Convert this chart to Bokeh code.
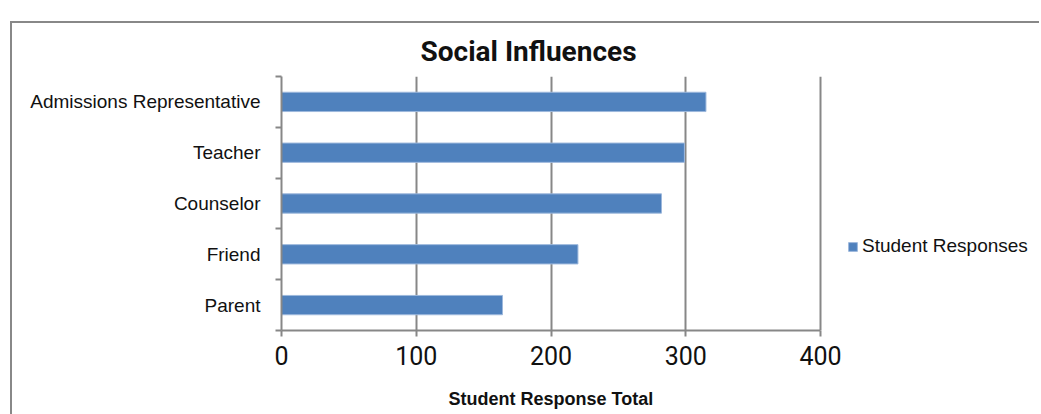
from bokeh.plotting import figure
from bokeh.models import (Range1d, FixedTicker, Legend, LegendItem, ColumnDataSource, Title)
from bokeh.embed import file_html
from bokeh.resources import INLINE

# ---- data ----
categories = ["Admissions Representative", "Teacher", "Counselor", "Friend", "Parent"]
responses = [315, 299, 282, 220, 164]
x_ticks = [0, 100, 200, 300, 400]
title_text = "Social Influences"
x_label = "Student Response Total"
series_name = "Student Responses"

GRAY = "#878787"
BAR = "#4F81BD"
COND = "Roboto, Liberation Sans, sans-serif"
REG = "Liberation Sans, Arial, sans-serif"

n = len(categories)
slot_centers = [n - 0.5 - i for i in range(n)]
slot_bounds = list(range(n + 1))

src = ColumnDataSource(dict(y=slot_centers, right=responses, cat=categories))

# the plot frame extends to the right edge (legend lives there); the value axis
# itself is bounded to 0..400 so 400 sits at 539 px from the left of the frame
FRAME_W = 760
AXIS_W = 539
x_max = x_ticks[-1] * FRAME_W / AXIS_W

p = figure(width=1029, height=405, output_backend="svg", toolbar_location=None,
           x_range=Range1d(0, x_max), y_range=Range1d(0, n),
           min_border_left=269, min_border_right=0, min_border_top=53, min_border_bottom=97)
p.styles = {"margin-left": "10px", "margin-top": "21px",
            "border-left": "2px solid #888888", "border-top": "2px solid #888888"}
p.outline_line_color = None
p.background_fill_color = "white"
p.border_fill_color = "white"

# title
p.title.text = title_text
p.title.align = "left"
p.title.offset = 139
p.title.text_font = COND
p.title.text_font_style = "bold"
p.title.text_font_size = "28px"
p.title.text_color = "#111111"
p.title.standoff = 17

r = p.hbar(y="y", right="right", height=0.38, left=0, source=src,
           fill_color=BAR, line_color="#9db8dc", line_width=1)

# x axis
xa = p.xaxis[0]
xa.bounds = (x_ticks[0], x_ticks[-1])
xa.ticker = FixedTicker(ticks=x_ticks)
xa.minor_tick_line_color = None
xa.major_tick_out = 6
xa.major_tick_in = 0
xa.major_tick_line_color = GRAY
xa.major_tick_line_width = 2
xa.axis_line_color = GRAY
xa.axis_line_width = 2
xa.major_label_text_font = COND
xa.major_label_text_font_size = "25px"
xa.major_label_text_color = "#111111"
xa.major_label_standoff = 9

# axis title, centred under the 0..400 axis
p.add_layout(Title(text=x_label, align="left", offset=167, standoff=39,
                   text_font=REG, text_font_style="bold", text_font_size="18px",
                   text_color="#111111"), "below")

p.xgrid.ticker = FixedTicker(ticks=x_ticks)
p.xgrid.grid_line_color = GRAY
p.xgrid.grid_line_width = 2
p.ygrid.grid_line_color = None

# y axis: labels at slot centres, tick marks at slot boundaries
ya = p.yaxis[0]
ya.ticker = FixedTicker(ticks=slot_centers, minor_ticks=slot_bounds)
ya.major_label_overrides = {c: cat for c, cat in zip(slot_centers, categories)}
ya.major_tick_line_color = None
ya.major_tick_out = 6
ya.major_tick_in = 0
ya.minor_tick_out = 6
ya.minor_tick_in = 0
ya.minor_tick_line_color = GRAY
ya.minor_tick_line_width = 2
ya.axis_line_color = GRAY
ya.axis_line_width = 2
ya.major_label_text_font = REG
ya.major_label_text_font_size = "19px"
ya.major_label_text_color = "#111111"
ya.major_label_standoff = 15

# legend (inside the widened frame, right of the value axis)
legend = Legend(items=[LegendItem(label=series_name, renderers=[r])],
                location=(566, 73), padding=0, margin=0, spacing=0,
                glyph_width=11, glyph_height=11, label_standoff=4, label_height=20,
                label_text_font=REG, label_text_font_size="19px", label_text_color="#111111",
                border_line_color=None, background_fill_alpha=0)
p.add_layout(legend, "center")

html = file_html(p, INLINE)
# the chart box runs past the window's bottom edge, as in the reference: no scrollbars
html = html.replace("</head>", "<style>html, body { overflow: hidden; }</style>\n</head>", 1)
open("out.html", "w").write(html)
